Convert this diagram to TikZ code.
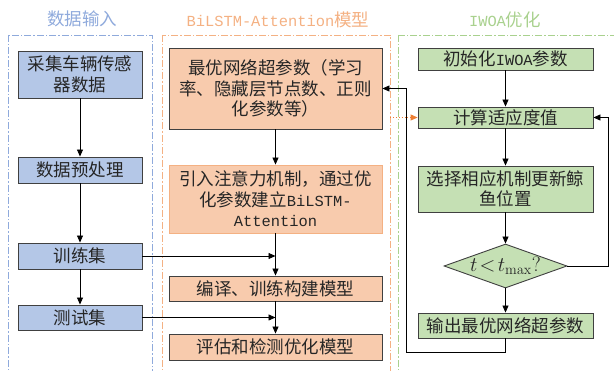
\documentclass[tikz,border=0pt]{standalone}
\usepackage[no-math]{fontspec}
\setmainfont{Noto Sans CJK SC}
\newfontfamily\mono{Liberation Mono}[Scale=0.88]
\usetikzlibrary{arrows.meta,shapes.geometric}
\definecolor{bfill}{HTML}{B4C7E7}
\definecolor{ofill}{HTML}{F8CBAD}
\definecolor{gfill}{HTML}{C5E0B4}
\definecolor{bframe}{HTML}{8FAADC}
\definecolor{oframe}{HTML}{F4B183}
\definecolor{gframe}{HTML}{A9D18E}
\definecolor{bordc}{HTML}{404040}
\definecolor{oarrc}{HTML}{ED7D31}
\begin{document}
\begin{tikzpicture}[x=1pt,y=-1pt,
  box/.style={draw=bordc, line width=0.9pt, inner sep=0pt, align=center, text=black!85, font=\fontsize{17.5}{20.5}\selectfont},
  bbox/.style={box, fill=bfill, minimum width=124pt},
  obox/.style={box, fill=ofill, minimum width=213pt},
  gbox/.style={box, fill=gfill, minimum width=175pt},
  arr/.style={-{Triangle[length=7pt,width=6pt]}, line width=0.8pt, black},
  oarr/.style={-{Triangle[length=7pt,width=6pt]}, line width=0.9pt, oarrc, dotted},
  frm/.style={line width=0.9pt, dash pattern=on 7pt off 2pt on 1.5pt off 2pt},
  ttl/.style={font=\fontsize{17.5}{20}\selectfont}]
\useasboundingbox (0,0) rectangle (614,371);
\clip (0,0) rectangle (614,371);
% frames
\draw[frm, draw=bframe] (8,35) rectangle (152,390);
\draw[frm, draw=oframe] (162,35) rectangle (390,390);
\draw[frm, draw=gframe] (398,35) rectangle (640,390);
% titles
\node[ttl, text=bframe] (t1) at (82,19) {数据输入};
\node[ttl, text=oframe] (t2) at (278,20) {{\mono BiLSTM-Attention}模型};
\node[ttl, text=gframe] (t3) at (505,20) {{\mono IWOA}优化};
% left column
\node[bbox, minimum height=47pt] (b1) at (80,74.5) {采集车辆传感\\器数据};
\node[bbox, minimum height=26pt] (b2) at (80,170) {数据预处理};
\node[bbox, minimum height=26pt] (b3) at (80,256) {训练集};
\node[bbox, minimum height=25pt] (b4) at (80,317.5) {测试集};
% middle column
\node[obox, minimum height=81pt] (m1) at (275.5,88.5) {最优网络超参数（学习\\率、隐藏层节点数、正则\\化参数等）};
\node[obox, draw=oframe, minimum height=68pt] (m2) at (275.5,199) {引入注意力机制，通过优\\化参数建立{\mono BiLSTM-}\\{\mono Attention}};
\node[obox, minimum height=25pt] (m3) at (275.5,288.5) {编译、训练构建模型};
\node[obox, minimum height=26pt] (m4) at (275.5,347) {评估和检测优化模型};
% right column
\node[gbox, minimum height=22pt] (r1) at (505.5,59) {初始化{\mono IWOA}参数};
\node[gbox, minimum height=21pt] (r2) at (505.5,117.5) {计算适应度值};
\node[gbox, minimum height=46pt] (r3) at (505.5,189) {选择相应机制更新鲸\\鱼位置};
\node[draw=bordc, line width=0.9pt, fill=gfill, diamond, inner sep=0pt, aspect=2.8,
      minimum width=123pt, minimum height=44pt, text=black!85, font=\fontsize{21}{24}\selectfont] (d) at (505.5,266) {$t\!<\!t_{\mathrm{max}}?$};
\node[gbox, minimum height=25pt] (r4) at (505.5,325.5) {输出最优网络超参数};
% connectors
\draw[arr] (b1) -- (b2);
\draw[arr] (b2) -- (b3);
\draw[arr] (b3) -- (b4);
\draw[arr] (m1) -- (m2);
\draw[arr] (m2) -- (m3);
\draw[arr] (m3) -- (m4);
\draw[arr] (b3.east) -- (b3.east -| m2.south);
\draw[arr] (b4.east) -- (b4.east -| m3.south);
\draw[arr] (r1) -- (r2);
\draw[arr] (r2) -- (r3);
\draw[arr] (r3) -- (d);
\draw[arr] (d) -- (r4);
\coordinate (fbr) at (608,266);
\draw[arr] (d.east) -- (fbr) |- (r2.east);
\coordinate (fbb) at (505.5,352);
\coordinate (fbl) at (406,352);
\draw[arr] (r4.south) -- (fbb) -- (fbl) -- (fbl |- m1.east) -- (m1.east);
\coordinate (od) at (390,117.5);
\draw[oarr] (od) -- (r2.west);
\end{tikzpicture}
\end{document}
